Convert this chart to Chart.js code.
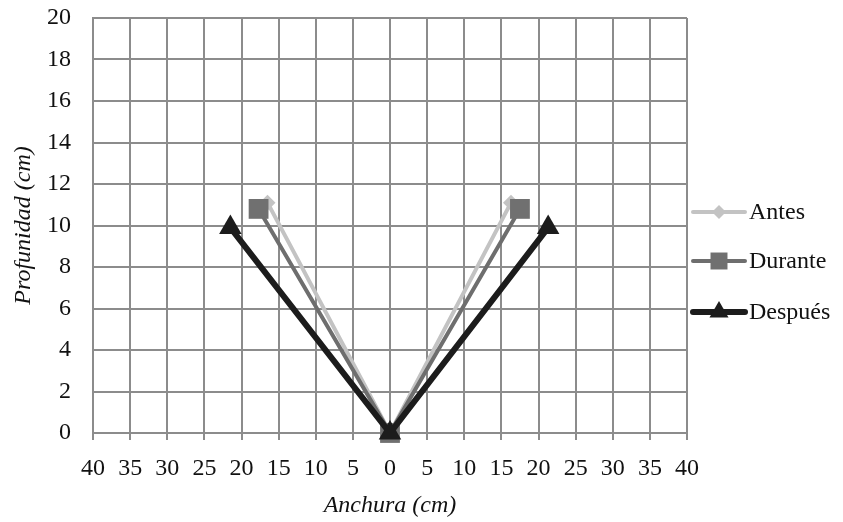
<!DOCTYPE html>
<html><head><meta charset="utf-8">
<script src="https://cdn.jsdelivr.net/npm/chart.js@4/dist/chart.umd.min.js"></script>
<style>html,body{margin:0;padding:0;background:#fff}#wrap{width:843px;height:522px}</style>
</head><body><div id="wrap"><canvas id="c" width="843" height="522"></canvas></div>
<script>
const seriesNames = ['Antes', 'Durante', 'Después'];
const antesX = [-16.5, 0, 16.3];
const antesY = [11.1, 0, 11.1];
const duranteX = [-17.7, 0, 17.5];
const duranteY = [10.8, 0, 10.8];
const despuesX = [-21.5, 0, 21.3];
const despuesY = [9.9, 0, 9.9];
const xTicks = [-40,-35,-30,-25,-20,-15,-10,-5,0,5,10,15,20,25,30,35,40];
const yTicks = [0,2,4,6,8,10,12,14,16,18,20];

const pts = (xs, ys) => xs.map((x, i) => ({x, y: ys[i]}));
const FONT = "'Liberation Serif', 'Times New Roman', serif";

const styles = [
  {line:'#c3c3c3', fill:'#c3c3c3', w:4, ps:'rectRot', r:8, lr:7},
  {line:'#6e6e6e', fill:'#707070', w:4, ps:'rect', r:14, lr:12},
  {line:'#1c1c1c', fill:'#1c1c1c', w:6, ps:'triangle', r:13, lr:11}
];
const data = [pts(antesX, antesY), pts(duranteX, duranteY), pts(despuesX, despuesY)];

function marker(ctx, type, x, y, r, color) {
  ctx.save(); ctx.fillStyle = color; ctx.beginPath();
  if (type === 'rectRot') { ctx.moveTo(x, y-r); ctx.lineTo(x+r, y); ctx.lineTo(x, y+r); ctx.lineTo(x-r, y); }
  else if (type === 'rect') { const s = r*Math.SQRT1_2; ctx.rect(x-s, y-s, 2*s, 2*s); }
  else { ctx.moveTo(x, y-r); ctx.lineTo(x + r*Math.sin(Math.PI/3), y + r*0.5); ctx.lineTo(x - r*Math.sin(Math.PI/3), y + r*0.5); }
  ctx.closePath(); ctx.fill(); ctx.restore();
}

const legendPlugin = {
  id: 'customLegend',
  afterDraw(chart) {
    const ctx = chart.ctx;
    const rows = [212, 261, 312];
    seriesNames.forEach((name, i) => {
      const s = styles[i], y = rows[i];
      ctx.save();
      ctx.strokeStyle = s.line; ctx.lineWidth = s.w; ctx.lineCap = 'round';
      ctx.beginPath(); ctx.moveTo(693, y); ctx.lineTo(745, y); ctx.stroke();
      marker(ctx, s.ps, 719, y, s.lr, s.fill);
      ctx.fillStyle = '#111'; ctx.font = '24px ' + FONT; ctx.textBaseline = 'middle'; ctx.textAlign = 'left';
      ctx.fillText(name, 749, y + 1);
      ctx.restore();
    });
  }
};

new Chart(document.getElementById('c'), {
  type: 'scatter',
  data: {
    datasets: seriesNames.map((n, i) => ({
      label: n, data: data[i], showLine: true, tension: 0,
      borderColor: styles[i].line, borderWidth: styles[i].w,
      backgroundColor: styles[i].fill, pointBackgroundColor: styles[i].fill,
      pointBorderWidth: 0, pointBorderColor: styles[i].fill,
      pointStyle: styles[i].ps, pointRadius: styles[i].r, pointHoverRadius: styles[i].r,
      order: 2 - i, clip: false
    }))
  },
  options: {
    responsive: false, animation: false,
    layout: {autoPadding: false, padding: {left: 0, right: 156, top: 18, bottom: 0}},
    plugins: {legend: {display: false}, tooltip: {enabled: false}},
    scales: {
      x: {
        type: 'linear', min: -40, max: 40,
        afterBuildTicks: s => { s.ticks = xTicks.map(v => ({value: v})); },
        afterFit: s => { s.height = 89; },
        ticks: {callback: v => String(Math.abs(v)), color: '#111', font: {family: FONT, size: 24}, padding: 14, maxRotation: 0, autoSkip: false},
        grid: {color: '#8c8c8c', lineWidth: 2, tickLength: 7},
        border: {color: '#8c8c8c', width: 2},
        title: {display: true, text: 'Anchura (cm)', color: '#111', font: {family: FONT, size: 24, style: 'italic'}, padding: {top: 0, bottom: 2}}
      },
      y: {
        type: 'linear', min: 0, max: 20,
        afterBuildTicks: s => { s.ticks = yTicks.map(v => ({value: v})); },
        afterFit: s => { s.width = 93; s.paddingTop = 0; s.paddingBottom = 0; },
        ticks: {color: '#111', font: {family: FONT, size: 24}, padding: 22, autoSkip: false},
        grid: {color: '#8c8c8c', lineWidth: 2, drawTicks: false},
        border: {color: '#8c8c8c', width: 2},
        title: {display: true, text: 'Profunidad (cm)', color: '#111', font: {family: FONT, size: 24, style: 'italic'}, padding: {top: 9, bottom: 0}}
      }
    }
  },
  plugins: [legendPlugin]
});
</script></body></html>
